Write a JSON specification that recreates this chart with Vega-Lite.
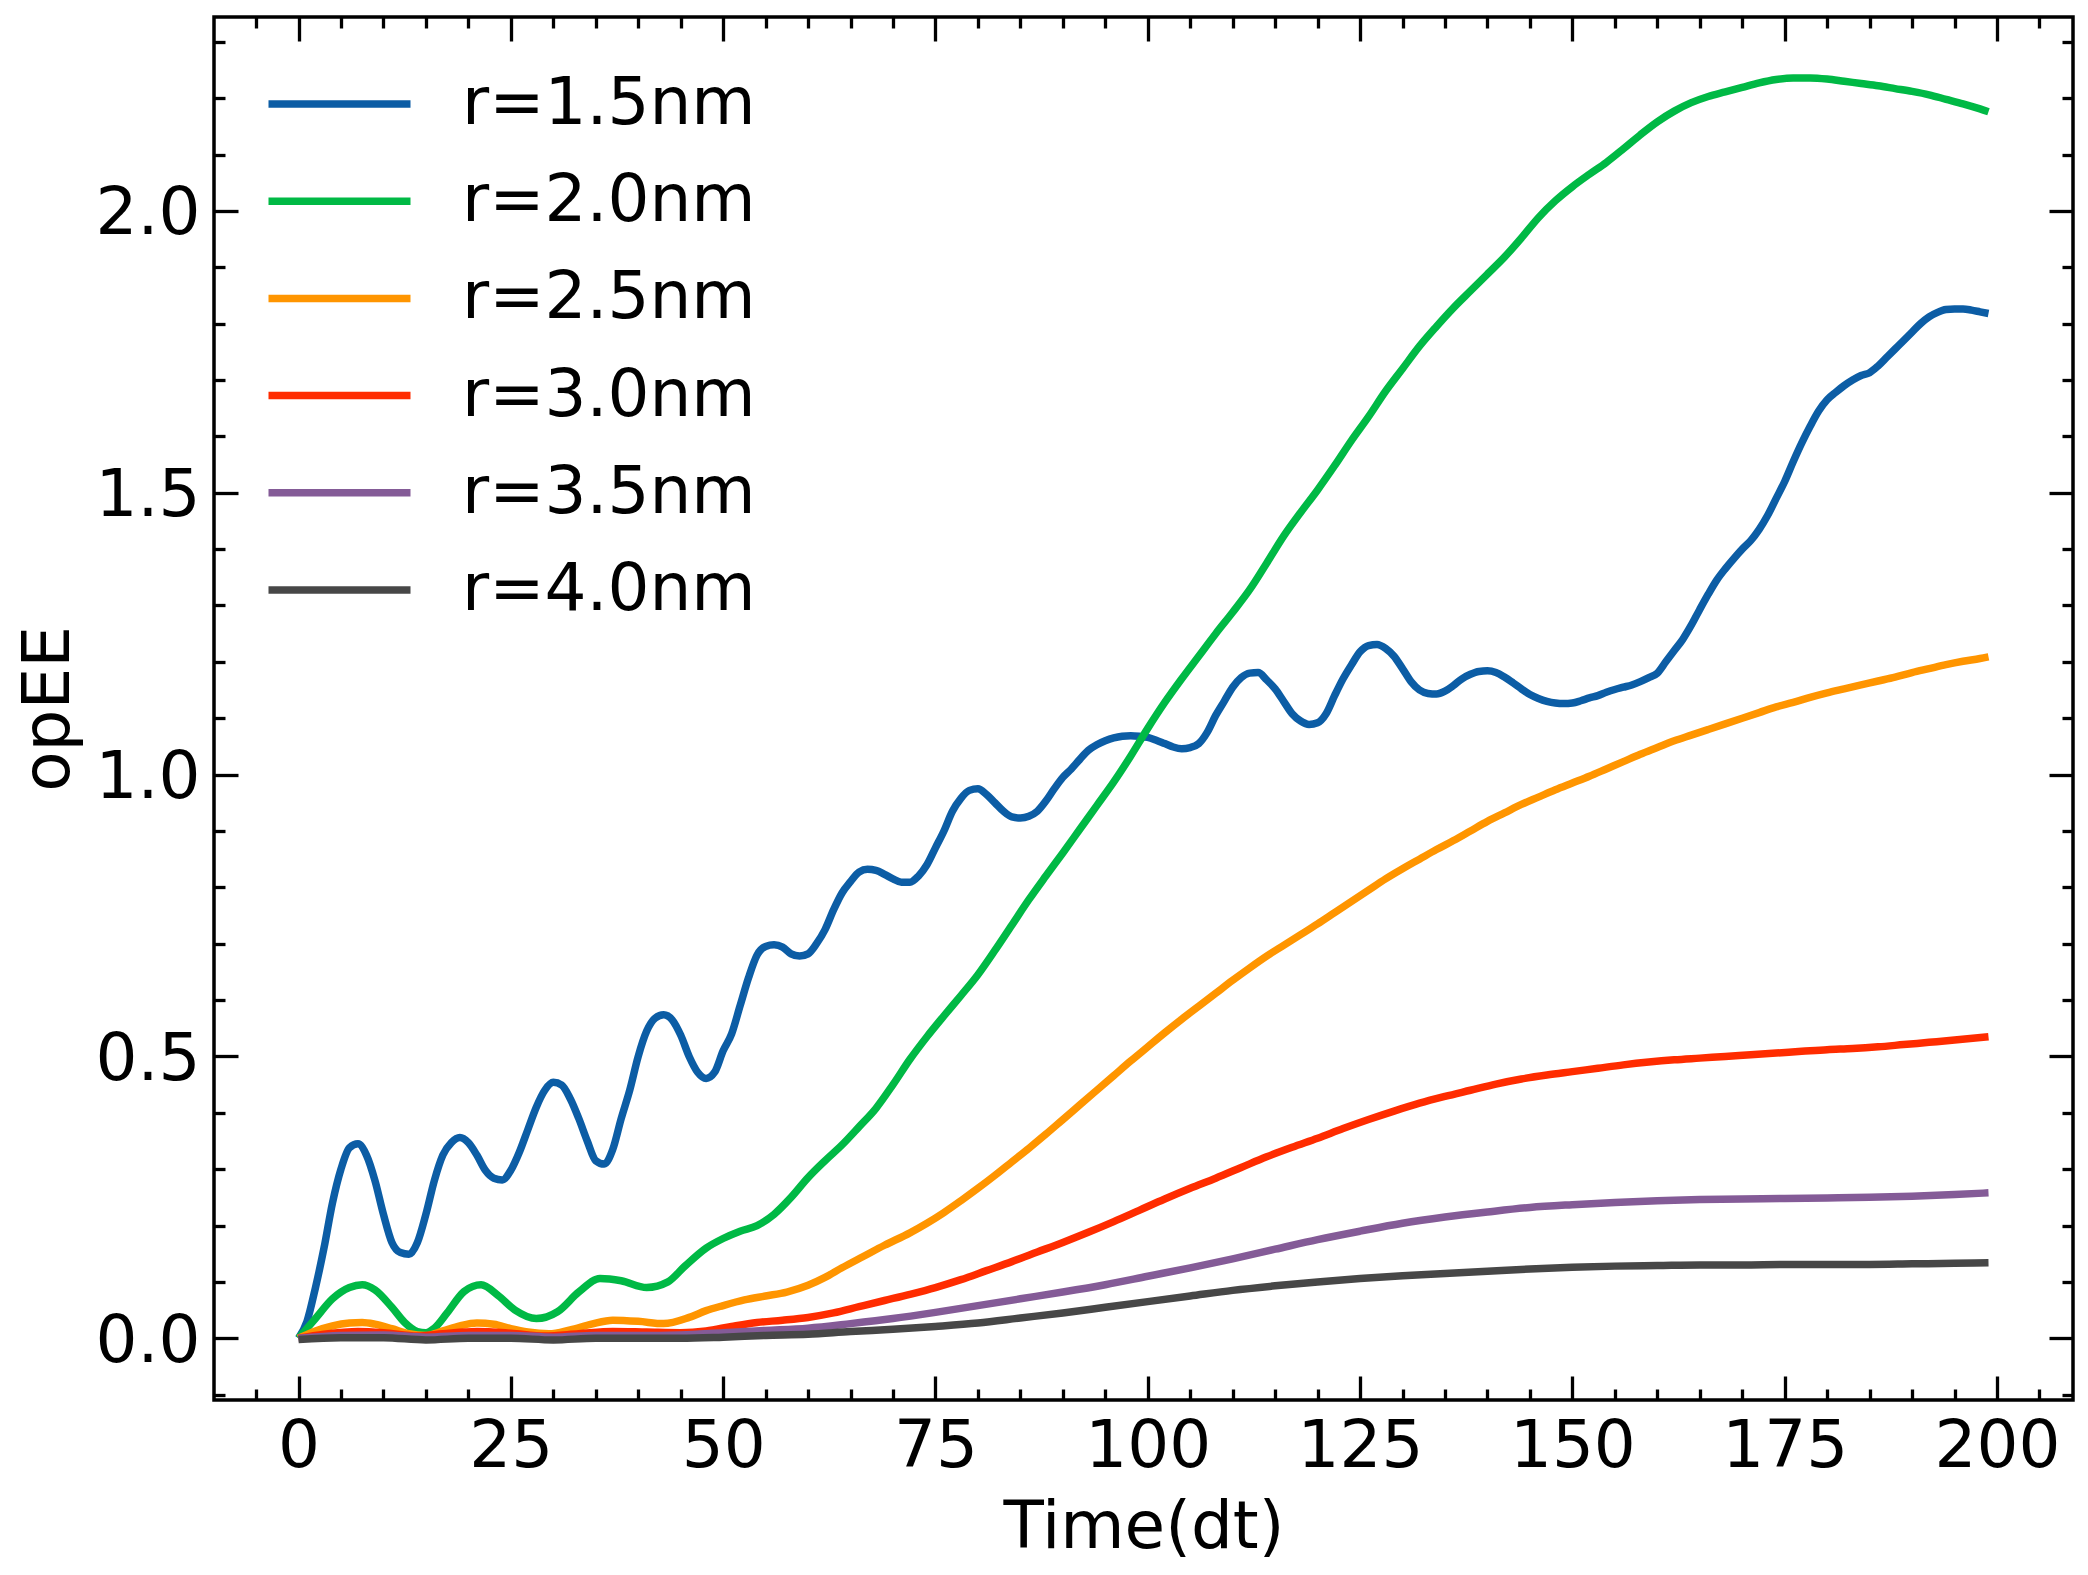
{
  "$schema": "https://vega.github.io/schema/vega-lite/v6.json",
  "width": 1859,
  "height": 1383,
  "autosize": "none",
  "padding": {"left": 214, "top": 17, "right": 15, "bottom": 175},
  "background": "white",
  "datasets": {
    "curves": [
      {"r":"r=1.5nm","t":0,"v":0},{"r":"r=1.5nm","t":1,"v":0.03},{"r":"r=1.5nm","t":2,"v":0.09},{"r":"r=1.5nm","t":3,"v":0.16},{"r":"r=1.5nm","t":4,"v":0.24},{"r":"r=1.5nm","t":5,"v":0.3},{"r":"r=1.5nm","t":6,"v":0.338},{"r":"r=1.5nm","t":7,"v":0.345},{"r":"r=1.5nm","t":8,"v":0.325},{"r":"r=1.5nm","t":9,"v":0.28},
      {"r":"r=1.5nm","t":10,"v":0.22},{"r":"r=1.5nm","t":11,"v":0.17},{"r":"r=1.5nm","t":12,"v":0.152},{"r":"r=1.5nm","t":13,"v":0.149},{"r":"r=1.5nm","t":14,"v":0.17},{"r":"r=1.5nm","t":15,"v":0.22},{"r":"r=1.5nm","t":16,"v":0.28},{"r":"r=1.5nm","t":17,"v":0.325},{"r":"r=1.5nm","t":18,"v":0.347},{"r":"r=1.5nm","t":19,"v":0.356},
      {"r":"r=1.5nm","t":20,"v":0.347},{"r":"r=1.5nm","t":21,"v":0.325},{"r":"r=1.5nm","t":22,"v":0.298},{"r":"r=1.5nm","t":23,"v":0.284},{"r":"r=1.5nm","t":24,"v":0.281},{"r":"r=1.5nm","t":25,"v":0.298},{"r":"r=1.5nm","t":26,"v":0.33},{"r":"r=1.5nm","t":27,"v":0.37},{"r":"r=1.5nm","t":28,"v":0.41},{"r":"r=1.5nm","t":29,"v":0.44},
      {"r":"r=1.5nm","t":30,"v":0.454},{"r":"r=1.5nm","t":31,"v":0.449},{"r":"r=1.5nm","t":32,"v":0.425},{"r":"r=1.5nm","t":33,"v":0.39},{"r":"r=1.5nm","t":34,"v":0.35},{"r":"r=1.5nm","t":35,"v":0.315},{"r":"r=1.5nm","t":36,"v":0.309},{"r":"r=1.5nm","t":37,"v":0.335},{"r":"r=1.5nm","t":38,"v":0.39},{"r":"r=1.5nm","t":39,"v":0.44},
      {"r":"r=1.5nm","t":40,"v":0.5},{"r":"r=1.5nm","t":41,"v":0.545},{"r":"r=1.5nm","t":42,"v":0.568},{"r":"r=1.5nm","t":43,"v":0.574},{"r":"r=1.5nm","t":44,"v":0.565},{"r":"r=1.5nm","t":45,"v":0.538},{"r":"r=1.5nm","t":46,"v":0.5},{"r":"r=1.5nm","t":47,"v":0.472},{"r":"r=1.5nm","t":48,"v":0.461},{"r":"r=1.5nm","t":49,"v":0.472},
      {"r":"r=1.5nm","t":50,"v":0.51},{"r":"r=1.5nm","t":51,"v":0.54},{"r":"r=1.5nm","t":52,"v":0.59},{"r":"r=1.5nm","t":53,"v":0.64},{"r":"r=1.5nm","t":54,"v":0.68},{"r":"r=1.5nm","t":55,"v":0.695},{"r":"r=1.5nm","t":56,"v":0.698},{"r":"r=1.5nm","t":57,"v":0.694},{"r":"r=1.5nm","t":58,"v":0.682},{"r":"r=1.5nm","t":59,"v":0.678},
      {"r":"r=1.5nm","t":60,"v":0.682},{"r":"r=1.5nm","t":61,"v":0.7},{"r":"r=1.5nm","t":62,"v":0.725},{"r":"r=1.5nm","t":63,"v":0.76},{"r":"r=1.5nm","t":64,"v":0.79},{"r":"r=1.5nm","t":65,"v":0.81},{"r":"r=1.5nm","t":66,"v":0.827},{"r":"r=1.5nm","t":67,"v":0.832},{"r":"r=1.5nm","t":68,"v":0.83},{"r":"r=1.5nm","t":69,"v":0.823},
      {"r":"r=1.5nm","t":70,"v":0.815},{"r":"r=1.5nm","t":71,"v":0.809},{"r":"r=1.5nm","t":72,"v":0.809},{"r":"r=1.5nm","t":73,"v":0.82},{"r":"r=1.5nm","t":74,"v":0.84},{"r":"r=1.5nm","t":75,"v":0.87},{"r":"r=1.5nm","t":76,"v":0.9},{"r":"r=1.5nm","t":77,"v":0.935},{"r":"r=1.5nm","t":78,"v":0.958},{"r":"r=1.5nm","t":79,"v":0.972},
      {"r":"r=1.5nm","t":80,"v":0.975},{"r":"r=1.5nm","t":81,"v":0.965},{"r":"r=1.5nm","t":82,"v":0.95},{"r":"r=1.5nm","t":83,"v":0.935},{"r":"r=1.5nm","t":84,"v":0.925},{"r":"r=1.5nm","t":85,"v":0.923},{"r":"r=1.5nm","t":86,"v":0.926},{"r":"r=1.5nm","t":87,"v":0.935},{"r":"r=1.5nm","t":88,"v":0.953},{"r":"r=1.5nm","t":89,"v":0.975},
      {"r":"r=1.5nm","t":90,"v":0.995},{"r":"r=1.5nm","t":91,"v":1.01},{"r":"r=1.5nm","t":92,"v":1.027},{"r":"r=1.5nm","t":93,"v":1.043},{"r":"r=1.5nm","t":94,"v":1.053},{"r":"r=1.5nm","t":95,"v":1.06},{"r":"r=1.5nm","t":96,"v":1.065},{"r":"r=1.5nm","t":97,"v":1.068},{"r":"r=1.5nm","t":98,"v":1.069},{"r":"r=1.5nm","t":99,"v":1.068},
      {"r":"r=1.5nm","t":100,"v":1.066},{"r":"r=1.5nm","t":101,"v":1.061},{"r":"r=1.5nm","t":102,"v":1.055},{"r":"r=1.5nm","t":103,"v":1.049},{"r":"r=1.5nm","t":104,"v":1.046},{"r":"r=1.5nm","t":105,"v":1.048},{"r":"r=1.5nm","t":106,"v":1.055},{"r":"r=1.5nm","t":107,"v":1.075},{"r":"r=1.5nm","t":108,"v":1.105},{"r":"r=1.5nm","t":109,"v":1.13},
      {"r":"r=1.5nm","t":110,"v":1.155},{"r":"r=1.5nm","t":111,"v":1.172},{"r":"r=1.5nm","t":112,"v":1.18},{"r":"r=1.5nm","t":113,"v":1.181},{"r":"r=1.5nm","t":114,"v":1.168},{"r":"r=1.5nm","t":115,"v":1.152},{"r":"r=1.5nm","t":116,"v":1.13},{"r":"r=1.5nm","t":117,"v":1.108},{"r":"r=1.5nm","t":118,"v":1.095},{"r":"r=1.5nm","t":119,"v":1.089},
      {"r":"r=1.5nm","t":120,"v":1.092},{"r":"r=1.5nm","t":121,"v":1.108},{"r":"r=1.5nm","t":122,"v":1.14},{"r":"r=1.5nm","t":123,"v":1.17},{"r":"r=1.5nm","t":124,"v":1.195},{"r":"r=1.5nm","t":125,"v":1.218},{"r":"r=1.5nm","t":126,"v":1.229},{"r":"r=1.5nm","t":127,"v":1.231},{"r":"r=1.5nm","t":128,"v":1.224},{"r":"r=1.5nm","t":129,"v":1.21},
      {"r":"r=1.5nm","t":130,"v":1.188},{"r":"r=1.5nm","t":131,"v":1.165},{"r":"r=1.5nm","t":132,"v":1.15},{"r":"r=1.5nm","t":133,"v":1.144},{"r":"r=1.5nm","t":134,"v":1.143},{"r":"r=1.5nm","t":135,"v":1.148},{"r":"r=1.5nm","t":136,"v":1.158},{"r":"r=1.5nm","t":137,"v":1.17},{"r":"r=1.5nm","t":138,"v":1.178},{"r":"r=1.5nm","t":139,"v":1.183},
      {"r":"r=1.5nm","t":140,"v":1.184},{"r":"r=1.5nm","t":141,"v":1.181},{"r":"r=1.5nm","t":142,"v":1.173},{"r":"r=1.5nm","t":143,"v":1.163},{"r":"r=1.5nm","t":144,"v":1.152},{"r":"r=1.5nm","t":145,"v":1.142},{"r":"r=1.5nm","t":146,"v":1.135},{"r":"r=1.5nm","t":147,"v":1.13},{"r":"r=1.5nm","t":148,"v":1.127},{"r":"r=1.5nm","t":149,"v":1.126},
      {"r":"r=1.5nm","t":150,"v":1.127},{"r":"r=1.5nm","t":151,"v":1.131},{"r":"r=1.5nm","t":152,"v":1.136},{"r":"r=1.5nm","t":153,"v":1.14},{"r":"r=1.5nm","t":154,"v":1.146},{"r":"r=1.5nm","t":155,"v":1.151},{"r":"r=1.5nm","t":156,"v":1.155},{"r":"r=1.5nm","t":157,"v":1.159},{"r":"r=1.5nm","t":158,"v":1.165},{"r":"r=1.5nm","t":159,"v":1.172},
      {"r":"r=1.5nm","t":160,"v":1.18},{"r":"r=1.5nm","t":161,"v":1.2},{"r":"r=1.5nm","t":162,"v":1.22},{"r":"r=1.5nm","t":163,"v":1.24},{"r":"r=1.5nm","t":164,"v":1.265},{"r":"r=1.5nm","t":165,"v":1.293},{"r":"r=1.5nm","t":166,"v":1.32},{"r":"r=1.5nm","t":167,"v":1.345},{"r":"r=1.5nm","t":168,"v":1.365},{"r":"r=1.5nm","t":169,"v":1.383},
      {"r":"r=1.5nm","t":170,"v":1.4},{"r":"r=1.5nm","t":171,"v":1.415},{"r":"r=1.5nm","t":172,"v":1.435},{"r":"r=1.5nm","t":173,"v":1.46},{"r":"r=1.5nm","t":174,"v":1.49},{"r":"r=1.5nm","t":175,"v":1.52},{"r":"r=1.5nm","t":176,"v":1.555},{"r":"r=1.5nm","t":177,"v":1.588},{"r":"r=1.5nm","t":178,"v":1.618},{"r":"r=1.5nm","t":179,"v":1.645},
      {"r":"r=1.5nm","t":180,"v":1.665},{"r":"r=1.5nm","t":181,"v":1.678},{"r":"r=1.5nm","t":182,"v":1.69},{"r":"r=1.5nm","t":183,"v":1.7},{"r":"r=1.5nm","t":184,"v":1.708},{"r":"r=1.5nm","t":185,"v":1.713},{"r":"r=1.5nm","t":186,"v":1.725},{"r":"r=1.5nm","t":187,"v":1.74},{"r":"r=1.5nm","t":188,"v":1.755},{"r":"r=1.5nm","t":189,"v":1.77},
      {"r":"r=1.5nm","t":190,"v":1.785},{"r":"r=1.5nm","t":191,"v":1.8},{"r":"r=1.5nm","t":192,"v":1.812},{"r":"r=1.5nm","t":193,"v":1.82},{"r":"r=1.5nm","t":194,"v":1.825},{"r":"r=1.5nm","t":195,"v":1.826},{"r":"r=1.5nm","t":196,"v":1.826},{"r":"r=1.5nm","t":197,"v":1.824},{"r":"r=1.5nm","t":198,"v":1.821},{"r":"r=1.5nm","t":199,"v":1.818},

      {"r":"r=2.0nm","t":0,"v":0},{"r":"r=2.0nm","t":2,"v":0.035},{"r":"r=2.0nm","t":4,"v":0.07},{"r":"r=2.0nm","t":6,"v":0.09},{"r":"r=2.0nm","t":7.5,"v":0.095},{"r":"r=2.0nm","t":9,"v":0.086},{"r":"r=2.0nm","t":11,"v":0.055},{"r":"r=2.0nm","t":12.5,"v":0.028},{"r":"r=2.0nm","t":14,"v":0.012},{"r":"r=2.0nm","t":15,"v":0.01},
      {"r":"r=2.0nm","t":16,"v":0.018},{"r":"r=2.0nm","t":17.5,"v":0.045},{"r":"r=2.0nm","t":19.5,"v":0.083},{"r":"r=2.0nm","t":21.5,"v":0.095},{"r":"r=2.0nm","t":23.5,"v":0.076},{"r":"r=2.0nm","t":25.5,"v":0.05},{"r":"r=2.0nm","t":28,"v":0.035},{"r":"r=2.0nm","t":30.5,"v":0.047},{"r":"r=2.0nm","t":33,"v":0.082},{"r":"r=2.0nm","t":35.5,"v":0.106},
      {"r":"r=2.0nm","t":38,"v":0.102},{"r":"r=2.0nm","t":41,"v":0.09},{"r":"r=2.0nm","t":43.5,"v":0.1},{"r":"r=2.0nm","t":45.5,"v":0.128},{"r":"r=2.0nm","t":48,"v":0.16},{"r":"r=2.0nm","t":50,"v":0.177},{"r":"r=2.0nm","t":52,"v":0.19},{"r":"r=2.0nm","t":54,"v":0.2},{"r":"r=2.0nm","t":56,"v":0.22},{"r":"r=2.0nm","t":58,"v":0.25},
      {"r":"r=2.0nm","t":60,"v":0.285},{"r":"r=2.0nm","t":62,"v":0.315},{"r":"r=2.0nm","t":64,"v":0.343},{"r":"r=2.0nm","t":66,"v":0.375},{"r":"r=2.0nm","t":68,"v":0.408},{"r":"r=2.0nm","t":70,"v":0.45},{"r":"r=2.0nm","t":72,"v":0.495},{"r":"r=2.0nm","t":74,"v":0.535},{"r":"r=2.0nm","t":76,"v":0.572},{"r":"r=2.0nm","t":78,"v":0.608},
      {"r":"r=2.0nm","t":80,"v":0.645},{"r":"r=2.0nm","t":82,"v":0.688},{"r":"r=2.0nm","t":84,"v":0.733},{"r":"r=2.0nm","t":86,"v":0.778},{"r":"r=2.0nm","t":88,"v":0.82},{"r":"r=2.0nm","t":90,"v":0.861},{"r":"r=2.0nm","t":92,"v":0.903},{"r":"r=2.0nm","t":94,"v":0.945},{"r":"r=2.0nm","t":96,"v":0.987},{"r":"r=2.0nm","t":98,"v":1.033},
      {"r":"r=2.0nm","t":100,"v":1.082},{"r":"r=2.0nm","t":102,"v":1.128},{"r":"r=2.0nm","t":104,"v":1.17},{"r":"r=2.0nm","t":106,"v":1.21},{"r":"r=2.0nm","t":108,"v":1.25},{"r":"r=2.0nm","t":110,"v":1.288},{"r":"r=2.0nm","t":112,"v":1.328},{"r":"r=2.0nm","t":114,"v":1.375},{"r":"r=2.0nm","t":116,"v":1.423},{"r":"r=2.0nm","t":118,"v":1.465},
      {"r":"r=2.0nm","t":120,"v":1.505},{"r":"r=2.0nm","t":122,"v":1.548},{"r":"r=2.0nm","t":124,"v":1.593},{"r":"r=2.0nm","t":126,"v":1.635},{"r":"r=2.0nm","t":128,"v":1.68},{"r":"r=2.0nm","t":130,"v":1.72},{"r":"r=2.0nm","t":132,"v":1.76},{"r":"r=2.0nm","t":134,"v":1.795},{"r":"r=2.0nm","t":136,"v":1.828},{"r":"r=2.0nm","t":138,"v":1.858},
      {"r":"r=2.0nm","t":140,"v":1.888},{"r":"r=2.0nm","t":142,"v":1.918},{"r":"r=2.0nm","t":144,"v":1.952},{"r":"r=2.0nm","t":146,"v":1.988},{"r":"r=2.0nm","t":148,"v":2.018},{"r":"r=2.0nm","t":150,"v":2.043},{"r":"r=2.0nm","t":152,"v":2.065},{"r":"r=2.0nm","t":154,"v":2.086},{"r":"r=2.0nm","t":156,"v":2.11},{"r":"r=2.0nm","t":158,"v":2.135},
      {"r":"r=2.0nm","t":160,"v":2.158},{"r":"r=2.0nm","t":162,"v":2.177},{"r":"r=2.0nm","t":164,"v":2.192},{"r":"r=2.0nm","t":166,"v":2.203},{"r":"r=2.0nm","t":168,"v":2.211},{"r":"r=2.0nm","t":170,"v":2.219},{"r":"r=2.0nm","t":172,"v":2.227},{"r":"r=2.0nm","t":174,"v":2.233},{"r":"r=2.0nm","t":176,"v":2.236},{"r":"r=2.0nm","t":178,"v":2.236},
      {"r":"r=2.0nm","t":180,"v":2.234},{"r":"r=2.0nm","t":182,"v":2.23},{"r":"r=2.0nm","t":184,"v":2.226},{"r":"r=2.0nm","t":186,"v":2.222},{"r":"r=2.0nm","t":188,"v":2.217},{"r":"r=2.0nm","t":190,"v":2.212},{"r":"r=2.0nm","t":192,"v":2.206},{"r":"r=2.0nm","t":194,"v":2.198},{"r":"r=2.0nm","t":196,"v":2.19},{"r":"r=2.0nm","t":198,"v":2.181},{"r":"r=2.0nm","t":199,"v":2.176},

      {"r":"r=2.5nm","t":0,"v":0},{"r":"r=2.5nm","t":2,"v":0.013},{"r":"r=2.5nm","t":4,"v":0.022},{"r":"r=2.5nm","t":6,"v":0.027},{"r":"r=2.5nm","t":7.5,"v":0.028},{"r":"r=2.5nm","t":9,"v":0.025},{"r":"r=2.5nm","t":11,"v":0.017},{"r":"r=2.5nm","t":13,"v":0.008},{"r":"r=2.5nm","t":15,"v":0.005},{"r":"r=2.5nm","t":17,"v":0.013},
      {"r":"r=2.5nm","t":19,"v":0.022},{"r":"r=2.5nm","t":21,"v":0.027},{"r":"r=2.5nm","t":23,"v":0.025},{"r":"r=2.5nm","t":25,"v":0.017},{"r":"r=2.5nm","t":27,"v":0.011},{"r":"r=2.5nm","t":29.5,"v":0.008},{"r":"r=2.5nm","t":32,"v":0.015},{"r":"r=2.5nm","t":34.5,"v":0.025},{"r":"r=2.5nm","t":37,"v":0.032},{"r":"r=2.5nm","t":40,"v":0.03},
      {"r":"r=2.5nm","t":43,"v":0.026},{"r":"r=2.5nm","t":46,"v":0.037},{"r":"r=2.5nm","t":48,"v":0.049},{"r":"r=2.5nm","t":50,"v":0.058},{"r":"r=2.5nm","t":52.5,"v":0.068},{"r":"r=2.5nm","t":55,"v":0.075},{"r":"r=2.5nm","t":57.5,"v":0.082},{"r":"r=2.5nm","t":60,"v":0.094},{"r":"r=2.5nm","t":62,"v":0.108},{"r":"r=2.5nm","t":64,"v":0.125},
      {"r":"r=2.5nm","t":66.5,"v":0.145},{"r":"r=2.5nm","t":69,"v":0.165},{"r":"r=2.5nm","t":72,"v":0.187},{"r":"r=2.5nm","t":74,"v":0.204},{"r":"r=2.5nm","t":76,"v":0.223},{"r":"r=2.5nm","t":78,"v":0.244},{"r":"r=2.5nm","t":80,"v":0.266},{"r":"r=2.5nm","t":82,"v":0.289},{"r":"r=2.5nm","t":84,"v":0.313},{"r":"r=2.5nm","t":86,"v":0.337},
      {"r":"r=2.5nm","t":88,"v":0.362},{"r":"r=2.5nm","t":90,"v":0.388},{"r":"r=2.5nm","t":92,"v":0.414},{"r":"r=2.5nm","t":94,"v":0.44},{"r":"r=2.5nm","t":96,"v":0.466},{"r":"r=2.5nm","t":98,"v":0.492},{"r":"r=2.5nm","t":100,"v":0.517},{"r":"r=2.5nm","t":102,"v":0.542},{"r":"r=2.5nm","t":104,"v":0.566},{"r":"r=2.5nm","t":106,"v":0.589},
      {"r":"r=2.5nm","t":108,"v":0.612},{"r":"r=2.5nm","t":110,"v":0.635},{"r":"r=2.5nm","t":112,"v":0.657},{"r":"r=2.5nm","t":114,"v":0.678},{"r":"r=2.5nm","t":116,"v":0.697},{"r":"r=2.5nm","t":118,"v":0.716},{"r":"r=2.5nm","t":120,"v":0.735},{"r":"r=2.5nm","t":122,"v":0.755},{"r":"r=2.5nm","t":124,"v":0.775},{"r":"r=2.5nm","t":126,"v":0.795},
      {"r":"r=2.5nm","t":128,"v":0.815},{"r":"r=2.5nm","t":130,"v":0.833},{"r":"r=2.5nm","t":132,"v":0.85},{"r":"r=2.5nm","t":134,"v":0.867},{"r":"r=2.5nm","t":136,"v":0.883},{"r":"r=2.5nm","t":138,"v":0.9},{"r":"r=2.5nm","t":140,"v":0.917},{"r":"r=2.5nm","t":142,"v":0.932},{"r":"r=2.5nm","t":144,"v":0.947},{"r":"r=2.5nm","t":146,"v":0.96},
      {"r":"r=2.5nm","t":148,"v":0.973},{"r":"r=2.5nm","t":150,"v":0.985},{"r":"r=2.5nm","t":152,"v":0.997},{"r":"r=2.5nm","t":154,"v":1.01},{"r":"r=2.5nm","t":156,"v":1.023},{"r":"r=2.5nm","t":158,"v":1.036},{"r":"r=2.5nm","t":160,"v":1.048},{"r":"r=2.5nm","t":162,"v":1.06},{"r":"r=2.5nm","t":164,"v":1.07},{"r":"r=2.5nm","t":166,"v":1.08},
      {"r":"r=2.5nm","t":168,"v":1.09},{"r":"r=2.5nm","t":170,"v":1.1},{"r":"r=2.5nm","t":172,"v":1.11},{"r":"r=2.5nm","t":174,"v":1.12},{"r":"r=2.5nm","t":176,"v":1.128},{"r":"r=2.5nm","t":178,"v":1.137},{"r":"r=2.5nm","t":180,"v":1.145},{"r":"r=2.5nm","t":182,"v":1.152},{"r":"r=2.5nm","t":184,"v":1.159},{"r":"r=2.5nm","t":186,"v":1.166},
      {"r":"r=2.5nm","t":188,"v":1.173},{"r":"r=2.5nm","t":190,"v":1.181},{"r":"r=2.5nm","t":192,"v":1.188},{"r":"r=2.5nm","t":194,"v":1.195},{"r":"r=2.5nm","t":196,"v":1.201},{"r":"r=2.5nm","t":198,"v":1.206},{"r":"r=2.5nm","t":199,"v":1.209},

      {"r":"r=3.0nm","t":0,"v":0},{"r":"r=3.0nm","t":3,"v":0.007},{"r":"r=3.0nm","t":7,"v":0.012},{"r":"r=3.0nm","t":10,"v":0.01},{"r":"r=3.0nm","t":14,"v":0.004},{"r":"r=3.0nm","t":17,"v":0.008},{"r":"r=3.0nm","t":21,"v":0.012},{"r":"r=3.0nm","t":25,"v":0.009},{"r":"r=3.0nm","t":29,"v":0.004},{"r":"r=3.0nm","t":33,"v":0.008},
      {"r":"r=3.0nm","t":37,"v":0.012},{"r":"r=3.0nm","t":41,"v":0.011},{"r":"r=3.0nm","t":45,"v":0.01},{"r":"r=3.0nm","t":48,"v":0.013},{"r":"r=3.0nm","t":51,"v":0.021},{"r":"r=3.0nm","t":54,"v":0.028},{"r":"r=3.0nm","t":57,"v":0.032},{"r":"r=3.0nm","t":60,"v":0.037},{"r":"r=3.0nm","t":63,"v":0.045},{"r":"r=3.0nm","t":66,"v":0.056},
      {"r":"r=3.0nm","t":69,"v":0.067},{"r":"r=3.0nm","t":72,"v":0.078},{"r":"r=3.0nm","t":75,"v":0.09},{"r":"r=3.0nm","t":78,"v":0.104},{"r":"r=3.0nm","t":81,"v":0.12},{"r":"r=3.0nm","t":84,"v":0.136},{"r":"r=3.0nm","t":87,"v":0.153},{"r":"r=3.0nm","t":90,"v":0.17},{"r":"r=3.0nm","t":93,"v":0.188},{"r":"r=3.0nm","t":96,"v":0.207},
      {"r":"r=3.0nm","t":99,"v":0.227},{"r":"r=3.0nm","t":102,"v":0.247},{"r":"r=3.0nm","t":105,"v":0.266},{"r":"r=3.0nm","t":108,"v":0.284},{"r":"r=3.0nm","t":111,"v":0.303},{"r":"r=3.0nm","t":114,"v":0.322},{"r":"r=3.0nm","t":117,"v":0.339},{"r":"r=3.0nm","t":120,"v":0.355},{"r":"r=3.0nm","t":123,"v":0.372},{"r":"r=3.0nm","t":126,"v":0.388},
      {"r":"r=3.0nm","t":129,"v":0.403},{"r":"r=3.0nm","t":132,"v":0.417},{"r":"r=3.0nm","t":135,"v":0.429},{"r":"r=3.0nm","t":138,"v":0.44},{"r":"r=3.0nm","t":141,"v":0.451},{"r":"r=3.0nm","t":144,"v":0.46},{"r":"r=3.0nm","t":147,"v":0.467},{"r":"r=3.0nm","t":150,"v":0.473},{"r":"r=3.0nm","t":153,"v":0.479},{"r":"r=3.0nm","t":156,"v":0.485},
      {"r":"r=3.0nm","t":159,"v":0.49},{"r":"r=3.0nm","t":162,"v":0.494},{"r":"r=3.0nm","t":165,"v":0.497},{"r":"r=3.0nm","t":168,"v":0.5},{"r":"r=3.0nm","t":171,"v":0.503},{"r":"r=3.0nm","t":174,"v":0.506},{"r":"r=3.0nm","t":177,"v":0.509},{"r":"r=3.0nm","t":180,"v":0.512},{"r":"r=3.0nm","t":183,"v":0.514},{"r":"r=3.0nm","t":186,"v":0.517},
      {"r":"r=3.0nm","t":189,"v":0.521},{"r":"r=3.0nm","t":192,"v":0.525},{"r":"r=3.0nm","t":195,"v":0.529},{"r":"r=3.0nm","t":199,"v":0.535},

      {"r":"r=3.5nm","t":0,"v":0},{"r":"r=3.5nm","t":5,"v":0.005},{"r":"r=3.5nm","t":10,"v":0.006},{"r":"r=3.5nm","t":15,"v":0.002},{"r":"r=3.5nm","t":20,"v":0.005},{"r":"r=3.5nm","t":25,"v":0.005},{"r":"r=3.5nm","t":30,"v":0.002},{"r":"r=3.5nm","t":35,"v":0.005},{"r":"r=3.5nm","t":40,"v":0.005},{"r":"r=3.5nm","t":45,"v":0.006},
      {"r":"r=3.5nm","t":50,"v":0.01},{"r":"r=3.5nm","t":55,"v":0.014},{"r":"r=3.5nm","t":60,"v":0.018},{"r":"r=3.5nm","t":65,"v":0.026},{"r":"r=3.5nm","t":70,"v":0.035},{"r":"r=3.5nm","t":75,"v":0.046},{"r":"r=3.5nm","t":80,"v":0.058},{"r":"r=3.5nm","t":85,"v":0.07},{"r":"r=3.5nm","t":90,"v":0.082},{"r":"r=3.5nm","t":95,"v":0.095},
      {"r":"r=3.5nm","t":100,"v":0.11},{"r":"r=3.5nm","t":105,"v":0.125},{"r":"r=3.5nm","t":110,"v":0.141},{"r":"r=3.5nm","t":115,"v":0.158},{"r":"r=3.5nm","t":120,"v":0.175},{"r":"r=3.5nm","t":125,"v":0.19},{"r":"r=3.5nm","t":130,"v":0.204},{"r":"r=3.5nm","t":135,"v":0.215},{"r":"r=3.5nm","t":140,"v":0.224},{"r":"r=3.5nm","t":145,"v":0.232},
      {"r":"r=3.5nm","t":150,"v":0.237},{"r":"r=3.5nm","t":155,"v":0.241},{"r":"r=3.5nm","t":160,"v":0.244},{"r":"r=3.5nm","t":165,"v":0.246},{"r":"r=3.5nm","t":170,"v":0.247},{"r":"r=3.5nm","t":175,"v":0.248},{"r":"r=3.5nm","t":180,"v":0.249},{"r":"r=3.5nm","t":185,"v":0.25},{"r":"r=3.5nm","t":190,"v":0.252},{"r":"r=3.5nm","t":195,"v":0.255},{"r":"r=3.5nm","t":199,"v":0.258},

      {"r":"r=4.0nm","t":0,"v":-0.002},{"r":"r=4.0nm","t":5,"v":0.001},{"r":"r=4.0nm","t":10,"v":0.001},{"r":"r=4.0nm","t":15,"v":-0.003},{"r":"r=4.0nm","t":20,"v":0},{"r":"r=4.0nm","t":25,"v":0},{"r":"r=4.0nm","t":30,"v":-0.003},{"r":"r=4.0nm","t":35,"v":0},{"r":"r=4.0nm","t":40,"v":0},{"r":"r=4.0nm","t":45,"v":0},
      {"r":"r=4.0nm","t":50,"v":0.002},{"r":"r=4.0nm","t":55,"v":0.005},{"r":"r=4.0nm","t":60,"v":0.007},{"r":"r=4.0nm","t":65,"v":0.012},{"r":"r=4.0nm","t":70,"v":0.016},{"r":"r=4.0nm","t":75,"v":0.021},{"r":"r=4.0nm","t":80,"v":0.027},{"r":"r=4.0nm","t":85,"v":0.036},{"r":"r=4.0nm","t":90,"v":0.045},{"r":"r=4.0nm","t":95,"v":0.055},
      {"r":"r=4.0nm","t":100,"v":0.065},{"r":"r=4.0nm","t":105,"v":0.075},{"r":"r=4.0nm","t":110,"v":0.085},{"r":"r=4.0nm","t":115,"v":0.093},{"r":"r=4.0nm","t":120,"v":0.1},{"r":"r=4.0nm","t":125,"v":0.106},{"r":"r=4.0nm","t":130,"v":0.111},{"r":"r=4.0nm","t":135,"v":0.115},{"r":"r=4.0nm","t":140,"v":0.119},{"r":"r=4.0nm","t":145,"v":0.123},
      {"r":"r=4.0nm","t":150,"v":0.126},{"r":"r=4.0nm","t":155,"v":0.128},{"r":"r=4.0nm","t":160,"v":0.129},{"r":"r=4.0nm","t":165,"v":0.13},{"r":"r=4.0nm","t":170,"v":0.13},{"r":"r=4.0nm","t":175,"v":0.131},{"r":"r=4.0nm","t":180,"v":0.131},{"r":"r=4.0nm","t":185,"v":0.131},{"r":"r=4.0nm","t":190,"v":0.132},{"r":"r=4.0nm","t":195,"v":0.133},{"r":"r=4.0nm","t":199,"v":0.134}
    ]
  },
  "data": {"name": "curves"},
  "layer": [
    {
      "mark": {"type": "line", "strokeWidth": 7.5, "interpolate": "monotone"},
      "encoding": {
        "x": {
          "field": "t", "type": "quantitative",
          "scale": {"domain": [-9.95, 208.95], "nice": false, "zero": false},
          "axis": {"values": [0, 25, 50, 75, 100, 125, 150, 175, 200], "format": "d", "ticks": false, "labelPadding": 14, "title": "Time(dt)", "titlePadding": 16}
        },
        "y": {
          "field": "v", "type": "quantitative",
          "scale": {"domain": [-0.1095, 2.344], "nice": false, "zero": false},
          "axis": {"values": [0, 0.5, 1, 1.5, 2], "format": ".1f", "ticks": false, "labelPadding": 14, "labelOffset": 3, "title": "opEE", "titlePadding": 13}
        },
        "color": {
          "field": "r", "type": "nominal",
          "scale": {
            "domain": ["r=1.5nm", "r=2.0nm", "r=2.5nm", "r=3.0nm", "r=3.5nm", "r=4.0nm"],
            "range": ["#0C5DA5", "#00B945", "#FF9500", "#FF2C00", "#845B97", "#474747"]
          },
          "legend": {
            "orient": "none", "legendX": 86, "legendY": 47.5, "title": null, "padding": 0,
            "symbolType": "M-2,0L2,0", "symbolSize": 5041, "symbolStrokeWidth": 7.5,
            "labelFontSize": 66, "labelOffset": 83, "labelLimit": 800, "rowPadding": 24.2, "labelColor": "black", "labelFont": "DejaVu Sans"
          }
        }
      }
    },
    {
      "mark": {"type": "point", "opacity": 0},
      "encoding": {
        "x": {"field": "t", "type": "quantitative", "scale": {"domain": [-9.95, 208.95], "nice": false, "zero": false},
          "axis": {"orient": "bottom", "values": [0, 25, 50, 75, 100, 125, 150, 175, 200], "labels": false, "title": null, "tickSize": -24}},
        "y": {"field": "v", "type": "quantitative", "scale": {"domain": [-0.1095, 2.344], "nice": false, "zero": false},
          "axis": {"orient": "left", "values": [0, 0.5, 1, 1.5, 2], "labels": false, "title": null, "tickSize": -24}}
      }
    },
    {
      "mark": {"type": "point", "opacity": 0},
      "encoding": {
        "x": {"field": "t", "type": "quantitative", "scale": {"domain": [-9.95, 208.95], "nice": false, "zero": false},
          "axis": {"orient": "top", "values": [0, 25, 50, 75, 100, 125, 150, 175, 200], "labels": false, "title": null, "tickSize": -24}},
        "y": {"field": "v", "type": "quantitative", "scale": {"domain": [-0.1095, 2.344], "nice": false, "zero": false},
          "axis": {"orient": "right", "values": [0, 0.5, 1, 1.5, 2], "labels": false, "title": null, "tickSize": -24}}
      }
    },
    {
      "mark": {"type": "point", "opacity": 0},
      "encoding": {
        "x": {"field": "t", "type": "quantitative", "scale": {"domain": [-9.95, 208.95], "nice": false, "zero": false},
          "axis": {"orient": "bottom", "values": [-5, 5, 10, 15, 20, 30, 35, 40, 45, 55, 60, 65, 70, 80, 85, 90, 95, 105, 110, 115, 120, 130, 135, 140, 145, 155, 160, 165, 170, 180, 185, 190, 195, 205], "labels": false, "title": null, "tickSize": -11}},
        "y": {"field": "v", "type": "quantitative", "scale": {"domain": [-0.1095, 2.344], "nice": false, "zero": false},
          "axis": {"orient": "left", "values": [-0.1, 0.1, 0.2, 0.3, 0.4, 0.6, 0.7, 0.8, 0.9, 1.1, 1.2, 1.3, 1.4, 1.6, 1.7, 1.8, 1.9, 2.1, 2.2, 2.3], "labels": false, "title": null, "tickSize": -11}}
      }
    },
    {
      "mark": {"type": "point", "opacity": 0},
      "encoding": {
        "x": {"field": "t", "type": "quantitative", "scale": {"domain": [-9.95, 208.95], "nice": false, "zero": false},
          "axis": {"orient": "top", "values": [-5, 5, 10, 15, 20, 30, 35, 40, 45, 55, 60, 65, 70, 80, 85, 90, 95, 105, 110, 115, 120, 130, 135, 140, 145, 155, 160, 165, 170, 180, 185, 190, 195, 205], "labels": false, "title": null, "tickSize": -11}},
        "y": {"field": "v", "type": "quantitative", "scale": {"domain": [-0.1095, 2.344], "nice": false, "zero": false},
          "axis": {"orient": "right", "values": [-0.1, 0.1, 0.2, 0.3, 0.4, 0.6, 0.7, 0.8, 0.9, 1.1, 1.2, 1.3, 1.4, 1.6, 1.7, 1.8, 1.9, 2.1, 2.2, 2.3], "labels": false, "title": null, "tickSize": -11}}
      }
    }
  ],
  "resolve": {
    "scale": {"x": "independent", "y": "independent"},
    "axis": {"x": "independent", "y": "independent"}
  },
  "config": {
    "font": "DejaVu Sans",
    "view": {"stroke": "black", "strokeWidth": 3.5},
    "axis": {
      "grid": false, "domain": false,
      "labelFont": "DejaVu Sans", "labelFontSize": 66, "labelColor": "black",
      "labelFlush": false, "labelOverlap": false,
      "titleFont": "DejaVu Sans", "titleFontSize": 66, "titleFontWeight": "normal", "titleColor": "black",
      "tickColor": "black", "tickWidth": 3.3
    }
  }
}
